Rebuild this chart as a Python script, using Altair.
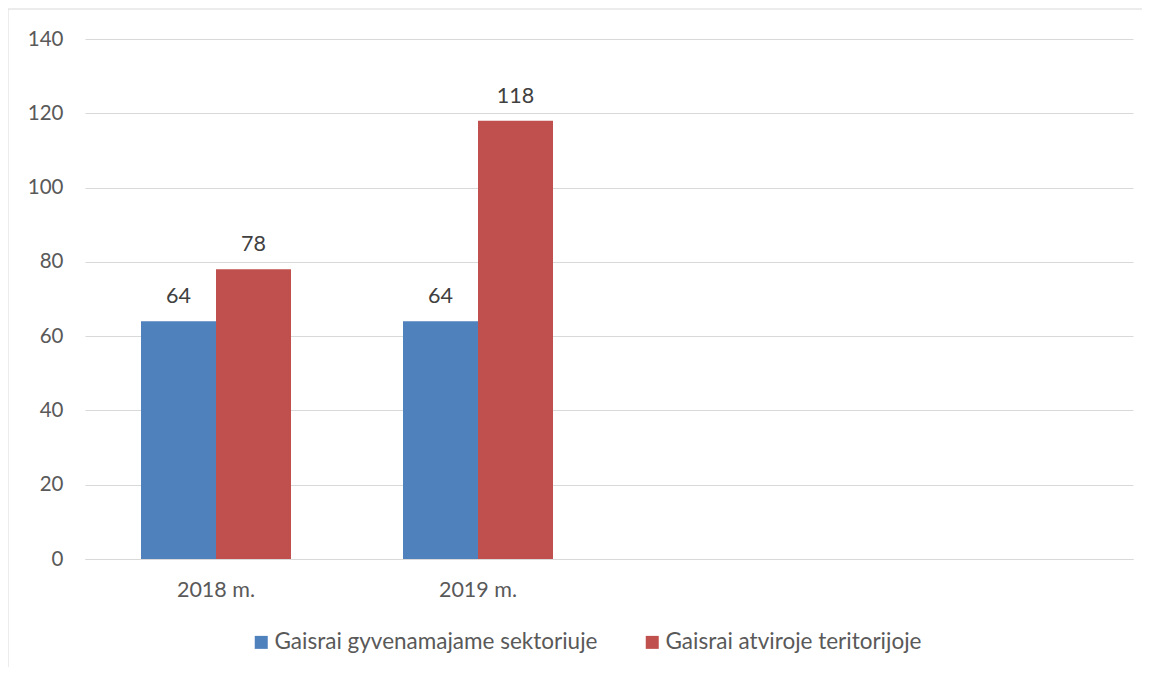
import altair as alt
import pandas as pd

slots = ["2018 m.", "2019 m.", "_3", "_4"]
categories = ["2018 m.", "2019 m."]
series = ["Gaisrai gyvenamajame sektoriuje", "Gaisrai atviroje teritorijoje"]
values_res = [64, 64]
values_open = [78, 118]
colors = ["#4F81BD", "#C0504D"]
y_ticks = [0, 20, 40, 60, 80, 100, 120, 140]

rows = []
for i, c in enumerate(categories):
    rows.append({"cat": c, "series": series[0], "value": values_res[i]})
    rows.append({"cat": c, "series": series[1], "value": values_open[i]})
df = pd.DataFrame(rows)

FONT = "Lato"
W, H = 1048, 520

x = alt.X("cat:N", scale=alt.Scale(domain=slots, paddingInner=0.4275, paddingOuter=0.21375),
          sort=slots,
          axis=alt.Axis(title=None, labelAngle=0, ticks=False, domain=True, domainColor="#d9d9d9",
                        labelExpr="slice(datum.value,0,1)=='_' ? '' : datum.value",
                        labelFont=FONT, labelFontSize=21.5, labelColor="#595959", labelPadding=20,
                        grid=False))
y = alt.Y("value:Q", scale=alt.Scale(domain=[0, 140], nice=False),
          axis=alt.Axis(title=None, values=y_ticks, ticks=False, domain=False, grid=True,
                        gridColor="#d9d9d9", gridWidth=1, labelFont=FONT, labelFontSize=20.5,
                        labelColor="#595959", labelPadding=22))
xo = alt.XOffset("series:N", sort=series, scale=alt.Scale(domain=series, paddingInner=0, paddingOuter=0))

base = alt.Chart(df)
bars = base.mark_bar().encode(
    x=x, y=y, xOffset=xo,
    color=alt.Color("series:N", sort=series, scale=alt.Scale(domain=series, range=colors),
                    legend=alt.Legend(title=None, orient="none", direction="horizontal",
                                      legendX=165, legendY=592, symbolType="square",
                                      symbolSize=169, symbolStrokeWidth=0, labelFont=FONT,
                                      labelFontSize=22.5, labelColor="#595959", labelOffset=2,
                                      columnPadding=43, labelLimit=500)),
)
labels = base.mark_text(baseline="bottom", dy=-13, font=FONT, fontSize=21.5, color="#404040").encode(
    x=x, y=y, xOffset=xo, text="value:Q"
)

one = alt.Chart(pd.DataFrame({"a": [0]}))
top_border = one.mark_rule(color="#d9d9d9", strokeWidth=1).encode(
    x=alt.value(-77), x2=alt.value(1060), y=alt.value(-30))
left_border = one.mark_rule(color="#d9d9d9", strokeWidth=1).encode(
    x=alt.value(-77), y=alt.value(-30), y2=alt.value(630))

chart = alt.layer(top_border, left_border, bars, labels).properties(
    width=W, height=H,
    background="white",
    autosize=alt.AutoSizeParams(type="none"),
    padding={"left": 77, "top": 31, "right": 9, "bottom": 108},
).configure_view(strokeWidth=0, stroke="transparent")

chart.save("out.html", embed_options={"renderer": "svg", "actions": False})
